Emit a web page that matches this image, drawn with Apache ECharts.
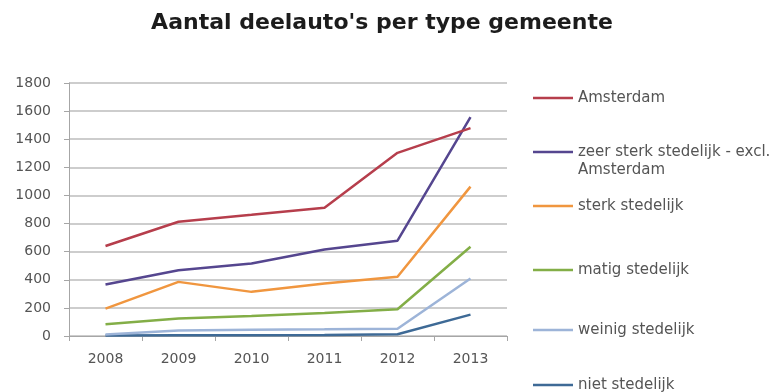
<!DOCTYPE html>
<html>
<head>
<meta charset="utf-8">
<script src="https://cdn.jsdelivr.net/npm/echarts@6/dist/echarts.min.js"></script>
<style>
  html, body { margin: 0; padding: 0; background: #ffffff; }
  #chart { width: 773px; height: 392px; }
</style>
</head>
<body>
<div id="chart"></div>
<script>
// Number of shared cars per municipality type, 2008-2013
const years = ['2008', '2009', '2010', '2011', '2012', '2013'];
const yTicks = { min: 0, max: 1800, step: 200 };

const amsterdam      = [640, 813, 862, 913, 1303, 1479];
const zeerSterk      = [366, 468, 516, 616, 678, 1557];
const sterk          = [195, 385, 314, 373, 421, 1063];
const matig          = [84, 124, 143, 164, 190, 635];
const weinig         = [10, 40, 45, 48, 52, 409];
const niet           = [3, 5, 5, 8, 13, 152];

const seriesNames = [
  'Amsterdam',
  'zeer sterk stedelijk - excl.\nAmsterdam',
  'sterk stedelijk',
  'matig stedelijk',
  'weinig stedelijk',
  'niet stedelijk'
];
const seriesData = [amsterdam, zeerSterk, sterk, matig, weinig, niet];
const colors = ['#B63E4C', '#55468F', '#F0963F', '#83AE47', '#9DB4D8', '#3E6A96'];

// vertical centre of each legend entry's first line
const legendCenters = [98, 152, 206, 270, 330, 385];
const LINE_H = 18;

const fontFamily = '"DejaVu Sans", "Open Sans", sans-serif';

const chart = echarts.init(document.getElementById('chart'), null, { renderer: 'canvas' });

const legends = seriesNames.map((name, i) => {
  const lines = name.split('\n').length;
  // multi-line entries get blank leading lines so the first line sits on the icon
  const blockLines = lines > 1 ? lines * 2 - 1 : 1;
  return {
    show: true,
    left: 533,
    top: legendCenters[i] - (blockLines * LINE_H) / 2,
    orient: 'vertical',
    itemWidth: 40,
    itemHeight: 14,
    padding: 0,
    selectedMode: false,
    formatter: lines > 1 ? (n) => '\n'.repeat(lines - 1) + n : '{name}',
    data: [{
      name: name,
      icon: 'path://M0,6 L40,6 L40,8.5 L0,8.5 Z'
    }],
    textStyle: {
      fontFamily: fontFamily,
      fontSize: 15,
      color: '#555555',
      lineHeight: LINE_H
    }
  };
});

const option = {
  backgroundColor: '#ffffff',
  animation: false,
  color: colors,
  title: {
    text: "Aantal deelauto's per type gemeente",
    left: 377,
    textAlign: 'center',
    top: 7,
    textStyle: {
      fontFamily: fontFamily,
      fontWeight: 'bold',
      fontSize: 22,
      color: '#1c1c1c'
    }
  },
  legend: legends,
  grid: {
    left: 69,
    right: 266,
    top: 83,
    bottom: 56,
    containLabel: false
  },
  xAxis: {
    type: 'category',
    data: years,
    boundaryGap: true,
    axisLine: { show: true, lineStyle: { color: '#A6A6A6', width: 1 } },
    axisTick: { show: true, length: 5, alignWithLabel: false, lineStyle: { color: '#A6A6A6' } },
    axisLabel: {
      fontFamily: fontFamily,
      fontSize: 14,
      color: '#555555',
      margin: 16
    }
  },
  yAxis: {
    type: 'value',
    min: yTicks.min,
    max: yTicks.max,
    interval: yTicks.step,
    axisLine: { show: true, lineStyle: { color: '#A6A6A6', width: 1 } },
    axisTick: { show: true, length: 5, lineStyle: { color: '#A6A6A6' } },
    splitLine: { show: true, lineStyle: { color: '#BDBDBD', width: 1.5 } },
    axisLabel: {
      fontFamily: fontFamily,
      fontSize: 14,
      color: '#555555',
      margin: 18,
      formatter: (v) => String(v)
    }
  },
  series: seriesNames.map((name, i) => ({
    name: name,
    type: 'line',
    data: seriesData[i],
    symbol: 'none',
    showSymbol: false,
    lineStyle: { width: 2.5, color: colors[i] },
    itemStyle: { color: colors[i] },
    z: 10 - i
  }))
};

chart.setOption(option);
</script>
</body>
</html>
